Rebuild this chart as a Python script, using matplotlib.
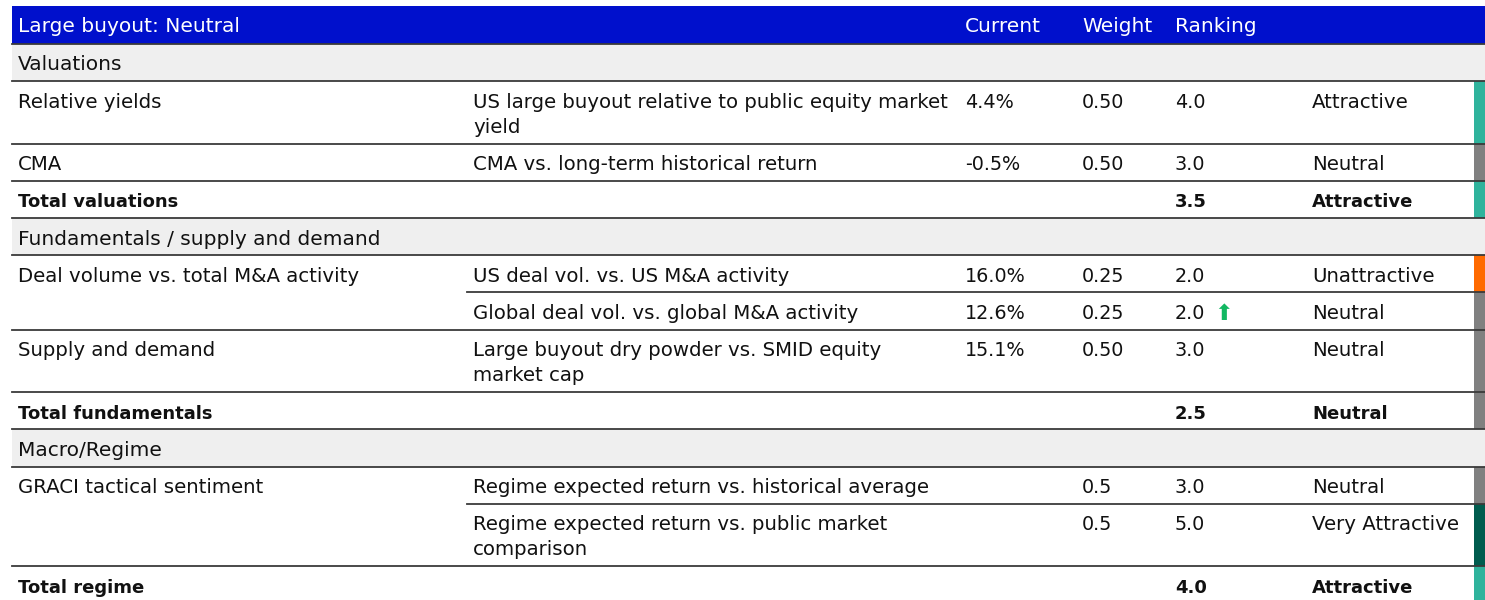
import matplotlib.pyplot as plt
from matplotlib.patches import Rectangle

plt.rcParams['font.family'] = ['DejaVu Sans']

title = "Large buyout: Neutral"
headers = ["Current", "Weight", "Ranking"]

# row kinds: 'section', 'item', 'sub' (continues previous item), 'total'
kinds = ["section", "item", "item", "total",
         "section", "item", "sub", "item", "total",
         "section", "item", "sub", "total"]
factors = ["Valuations", "Relative yields", "CMA", "Total valuations",
           "Fundamentals / supply and demand", "Deal volume vs. total M&A activity", "",
           "Supply and demand", "Total fundamentals",
           "Macro/Regime", "GRACI tactical sentiment", "", "Total regime"]
metrics = ["", "US large buyout relative to public equity market\nyield",
           "CMA vs. long-term historical return", "",
           "", "US deal vol. vs. US M&A activity", "Global deal vol. vs. global M&A activity",
           "Large buyout dry powder vs. SMID equity\nmarket cap", "",
           "", "Regime expected return vs. historical average",
           "Regime expected return vs. public market\ncomparison", ""]
current = ["", "4.4%", "-0.5%", "", "", "16.0%", "12.6%", "15.1%", "", "", "", "", ""]
weight = ["", "0.50", "0.50", "", "", "0.25", "0.25", "0.50", "", "", "0.5", "0.5", ""]
ranking = ["", "4.0", "3.0", "3.5", "", "2.0", "2.0", "3.0", "2.5", "", "3.0", "5.0", "4.0"]
rating = ["", "Attractive", "Neutral", "Attractive", "", "Unattractive", "Neutral",
          "Neutral", "Neutral", "", "Neutral", "Very Attractive", "Attractive"]
arrow_up = [False] * 13
arrow_up[6] = True

rating_colors = {"Attractive": "#2FB39C", "Neutral": "#808080",
                 "Unattractive": "#FF6A00", "Very Attractive": "#005C4E"}

W, H = 1485, 600
fig = plt.figure(figsize=(W / 100, H / 100), dpi=100)
ax = fig.add_axes([0, 0, 1, 1])
ax.set_xlim(0, W)
ax.set_ylim(H, 0)
ax.axis("off")

x_left, x_right = 12, 1485
cols = [18, 473, 965, 1082, 1175, 1312]
fs_head = 14.5   # header + section titles
fs_txt = 14.2    # plain text
fs_num = 13.8    # current / weight / ranking
fs_bold = 13     # totals
txt_c = "#111111"
line_c = "#3a3a3a"

# header band
ax.add_patch(Rectangle((x_left, 6), x_right - x_left, 38, color="#0010CC", lw=0))
ax.text(cols[0], 32, title, color="white", fontsize=fs_head, va="baseline")
for x, h in zip(cols[2:5], headers):
    ax.text(x, 32, h, color="white", fontsize=fs_head, va="baseline")
ax.plot([x_left, x_right], [44, 44], color=line_c, lw=1.3)

y = 44
single, double = 37.2, 62.5
for i, k in enumerate(kinds):
    lines = metrics[i].split("\n")
    h = double if len(lines) > 1 else single
    base = y + 26.5
    if k == "section":
        ax.add_patch(Rectangle((x_left, y), x_right - x_left, h, color="#EFEFEF", lw=0))
        ax.text(cols[0], base, factors[i], fontsize=fs_head, va="baseline", color=txt_c)
    elif k == "total":
        ax.text(cols[0], base, factors[i], fontsize=fs_bold, va="baseline",
                color=txt_c, fontweight="bold")
        ax.text(cols[4], base, ranking[i], fontsize=fs_bold, va="baseline",
                color=txt_c, fontweight="bold")
        ax.text(cols[5], base, rating[i], fontsize=fs_bold, va="baseline",
                color=txt_c, fontweight="bold")
    else:
        ax.text(cols[0], base, factors[i], fontsize=fs_txt, va="baseline", color=txt_c)
        for j, ln in enumerate(lines):
            ax.text(cols[1], base + 25 * j, ln, fontsize=fs_txt, va="baseline", color=txt_c)
        ax.text(cols[2], base, current[i], fontsize=fs_num, va="baseline", color=txt_c)
        ax.text(cols[3], base, weight[i], fontsize=fs_num, va="baseline", color=txt_c)
        ax.text(cols[4], base, ranking[i], fontsize=fs_num, va="baseline", color=txt_c)
        ax.text(cols[5], base, rating[i], fontsize=fs_txt, va="baseline", color=txt_c)
    if arrow_up[i]:
        ax.text(cols[4] + 39, base + 1, "\u2b06", fontsize=16, va="baseline",
                color="#12B862")
    if rating[i]:
        ax.add_patch(Rectangle((1474, y), x_right - 1474, h,
                               color=rating_colors[rating[i]], lw=0))
    # separator above this row
    if i > 0:
        x0 = 467 if k == "sub" else x_left
        ax.plot([x0, x_right], [y, y], color=line_c, lw=1.3, zorder=3)
    y += h

fig.savefig("out.png", dpi=100)
